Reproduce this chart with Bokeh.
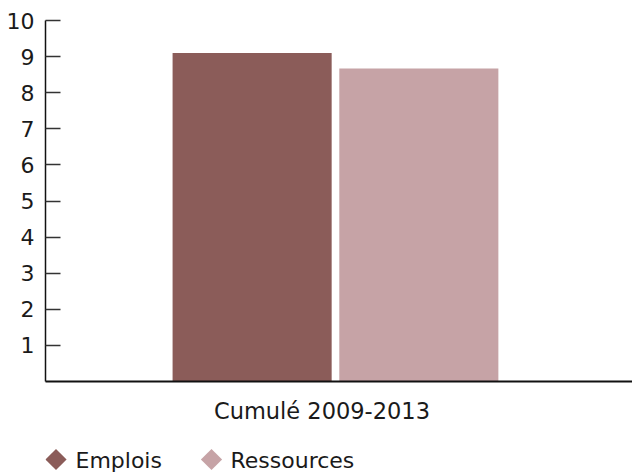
import math
from bokeh.plotting import figure
from bokeh.layouts import column
from bokeh.models import Range1d, FixedTicker, ColumnDataSource
from bokeh.core.properties import value
from bokeh.transform import dodge
from bokeh.embed import file_html
from bokeh.resources import INLINE

categories = ["Cumulé 2009-2013"]
series_names = ["Emplois", "Ressources"]
emplois = [9.1]
ressources = [8.67]
y_ticks = [1, 2, 3, 4, 5, 6, 7, 8, 9, 10]
colors = ["#8B5C59", "#C6A3A6"]

FONT = "DejaVu Sans"
TXT = "#1a1a1a"

pos = list(range(len(categories)))
source = ColumnDataSource(dict(pos=pos, emplois=emplois, ressources=ressources))

p = figure(x_range=Range1d(-0.471, len(categories) - 0.471), y_range=Range1d(0, 10),
           width=632, height=440, output_backend="svg", toolbar_location=None,
           min_border_left=45, min_border_right=0, min_border_top=20, min_border_bottom=59)

p.vbar(x=dodge("pos", -0.119), top="emplois", width=0.271,
       source=source, color=colors[0], line_color=None)
p.vbar(x=dodge("pos", 0.165), top="ressources", width=0.271,
       source=source, color=colors[1], line_color=None)

p.outline_line_color = None
p.xgrid.grid_line_color = None
p.ygrid.grid_line_color = None

p.yaxis.ticker = FixedTicker(ticks=y_ticks)
p.yaxis.major_tick_in = 15
p.yaxis.major_tick_out = 0
p.yaxis.minor_tick_line_color = None
p.yaxis.major_tick_line_color = "#333333"
p.yaxis.major_tick_line_width = 1.5
p.yaxis.axis_line_color = "#111111"
p.yaxis.axis_line_width = 1.5
p.yaxis.major_label_standoff = 11
p.yaxis.major_label_text_font = FONT
p.yaxis.major_label_text_font_size = "22px"
p.yaxis.major_label_text_color = TXT

p.xaxis.ticker = FixedTicker(ticks=pos)
p.xaxis.major_label_overrides = {i: c for i, c in zip(pos, categories)}
p.xaxis.major_tick_line_color = None
p.xaxis.minor_tick_line_color = None
p.xaxis.axis_line_color = "#111111"
p.xaxis.axis_line_width = 2
p.xaxis.major_label_standoff = 10
p.xaxis.major_label_text_font = FONT
p.xaxis.major_label_text_font_size = "22.5px"
p.xaxis.major_label_text_color = TXT

# legend strip below the chart (its ranges are in pixels of the page)
LG_LEFT, LG_TOP, LG_H = 45, 440, 32
legend_marker_x = [55.5, 211]
legend_text_x = [75, 230]
legend_y = 459

lg = figure(width=632, height=LG_H, output_backend="svg", toolbar_location=None,
            x_axis_type=None, y_axis_type=None,
            x_range=Range1d(LG_LEFT, 632), y_range=Range1d(LG_TOP + LG_H, LG_TOP),
            min_border_left=LG_LEFT, min_border_right=0, min_border_top=0, min_border_bottom=0)
lg.outline_line_color = None
lg.xgrid.grid_line_color = None
lg.ygrid.grid_line_color = None

lg.scatter(x=legend_marker_x, y=[legend_y] * len(series_names), marker="square",
           angle=math.pi / 4, size=15, fill_color=colors, line_color=None)
lg.text(x=legend_text_x, y=[legend_y + 1] * len(series_names), text=series_names,
        text_font=value(FONT), text_font_size="22px", text_color=TXT,
        text_baseline="middle", text_align="left")

layout = column(p, lg, spacing=0)
open("out.html", "w").write(file_html(layout, INLINE))
